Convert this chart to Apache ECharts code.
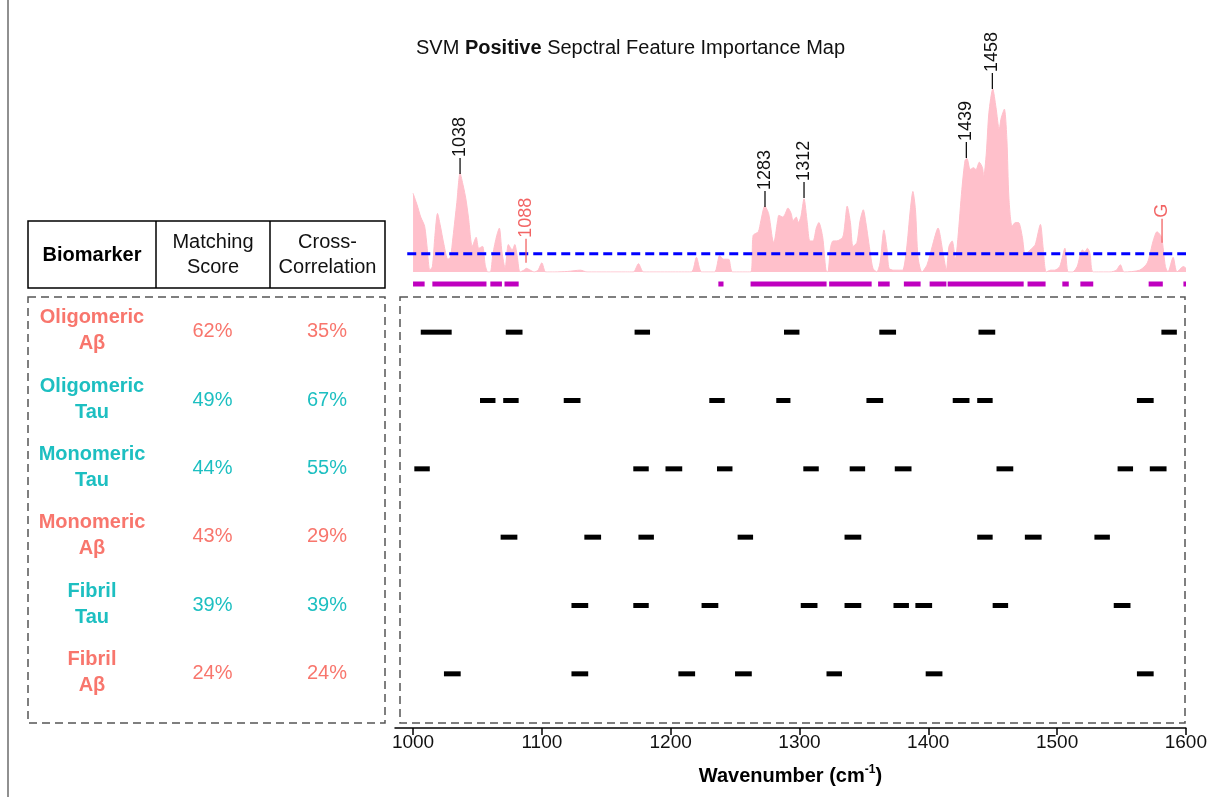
<!DOCTYPE html>
<html><head><meta charset="utf-8">
<script src="https://cdn.jsdelivr.net/npm/echarts@6/dist/echarts.min.js"></script>
<style>html,body{margin:0;padding:0;background:#fff}#c{width:1210px;height:797px}</style>
</head><body><div id="c"></div>
<script>
const FONT = '"Liberation Sans", Arial, Helvetica, sans-serif';

// ---- spectral importance profile (top panel) ----
const wavenumbers = [1000,1003,1006,1009,1011,1013,1015,1017,1019,1021,1024,1027,1029,1031,1034,1036.5,1039,1041,1043,1046,1049,1051,1054,1056,1058,1060,1062,1065,1067,1069,1071.5,1074,1077,1079,1081,1083,1086,1088,1091,1094,1097,1100,1103,1110,1120,1130,1135,1150,1165,1171,1175,1179,1200,1216,1220,1224,1234,1238,1241,1245,1248,1262,
1264,1268,1270,1273,1276,1279,1280,1283,1284,1287,1289,1291,1293.5,1295,1297.5,1299,1301,1303.5,1306,1308,1310.5,1313,1315,1318,1320.5,1322,1324,1326,1329,1333.5,1335,1337,1339.5,1341.5,1344.5,1347,1349.5,1351.5,1355,1357,1360,1362.5,1365.5,1368,1369.5,1373,1377,1380,1383,1386,1388,1390,1392,1395,1399,1403,1407.5,1411.5,1414,1416,1418.5,1421,1423,1426,1428.5,1430,1432.5,1435,1437,1439.5,1442,1443,1445,1447,1450,1452.5,1455,1456.5,1459,1461,1462.5,1465,1467.5,1470,1473,1475,1477.5,1480.5,1483,1487,1489,1491.5,1495,1498,1502,1506,1508.5,1512,1515.5,1519.5,1521.5,1523.5,1525.5,1528,1541,1546,1549,1552,1564,1570,1574.5,1577.5,1581,1584,1586,1590,1593,1598,1600];
const importance = [0.43,0.37,0.30,0.25,0.13,0.01,0.03,0.20,0.32,0.26,0.15,0.07,0.08,0.19,0.38,0.54,0.47,0.40,0.30,0.14,0.19,0.13,0.14,0.04,0.0,0.0,0.10,0.20,0.24,0.11,0.02,0.15,0.12,0.15,0.08,0.0,0.01,0.02,0.01,0.0,0.01,0.05,0.0,0.0,0.003,0.01,0.0,0.0,0.0,0.0,0.045,0.0,0.0,0.0,0.08,0.0,0.0,0.09,0.07,0.07,0.0,0.0,
0.20,0.22,0.28,0.36,0.32,0.18,0.16,0.28,0.31,0.30,0.32,0.35,0.32,0.28,0.30,0.27,0.30,0.40,0.27,0.17,0.17,0.24,0.27,0.19,0.01,0.0,0.13,0.17,0.17,0.19,0.25,0.36,0.27,0.14,0.16,0.28,0.34,0.27,0.10,0.02,0.0,0.05,0.23,0.12,0.02,0.01,0.01,0.01,0.12,0.34,0.44,0.34,0.08,0.0,0.04,0.14,0.24,0.10,0.01,0.14,0.17,0.07,0.19,0.45,0.61,0.62,0.56,0.57,0.56,0.60,0.57,0.52,0.65,0.87,1.00,0.90,0.78,0.84,0.89,0.72,0.41,0.25,0.27,0.27,0.19,0.10,0.11,0.13,0.15,0.26,0.14,0.0,0.01,0.01,0.03,0.13,0.0,0.0,0.03,0.12,0.11,0.13,0.10,0.0,0.0,0.01,0.04,0.0,0.01,0.05,0.17,0.22,0.19,0.03,0.0,0.08,0.0,0.03,0.02];
const thresholdValue = 0.1;
const thresholdSpan = [995.5, 1600];
const selectedRegions = [[1000,1009],[1015,1057],[1060,1069],[1071,1082],[1237,1241],[1262,1321],[1323,1356],[1361,1370],[1381,1394],[1401,1414],[1415,1474],[1477,1491],[1504,1509],[1518,1528],[1571,1582],[1598,1600]];
const peakLabels = ['1038','1088','1283','1312','1439','1458','G'];
const peakWn = [1036.5,1087.7,1273.2,1303.5,1429.5,1449.7,1581.4];
const peakVal = [0.535,0.05,0.355,0.405,0.623,1.0,0.16];
const highlightedPeaks = ['1088','G'];

// ---- biomarker table ----
const biomarkerForm = ['Oligomeric','Oligomeric','Monomeric','Monomeric','Fibril','Fibril'];
const biomarkerProtein = ['Aβ','Tau','Tau','Aβ','Tau','Aβ'];
const matchingScore = [62,49,44,43,39,24];
const crossCorrelation = [35,67,55,29,39,24];

// ---- matched spectral bands per biomarker (bottom panel) ----
const segOligomericAb = [[1006,1030],[1072,1085],[1172,1184],[1288,1300],[1362,1375],[1439,1452],[1581,1593]];
const segOligomericTau = [[1052,1064],[1070,1082],[1117,1130],[1230,1242],[1282,1293],[1352,1365],[1419,1432],[1438,1450],[1562,1575]];
const segMonomericTau = [[1001,1013],[1171,1183],[1196,1209],[1236,1248],[1303,1315],[1339,1351],[1374,1387],[1453,1466],[1547,1559],[1572,1585]];
const segMonomericAb = [[1068,1081],[1133,1146],[1175,1187],[1252,1264],[1335,1348],[1438,1450],[1475,1488],[1529,1541]];
const segFibrilTau = [[1123,1136],[1171,1183],[1224,1237],[1301,1314],[1335,1348],[1373,1385],[1390,1403],[1450,1462],[1544,1557]];
const segFibrilAb = [[1024,1037],[1123,1136],[1206,1219],[1250,1263],[1321,1333],[1398,1411],[1562,1575]];
const xTicks = [1000,1100,1200,1300,1400,1500,1600];
const xRange = [986, 1600];

// ---------------- build ----------------
const RED = '#F8766D', TEAL = '#1DBFC1';
const rowKeys = biomarkerForm.map((f,i)=>f+' '+biomarkerProtein[i]);
const allSegs = [segOligomericAb,segOligomericTau,segMonomericTau,segMonomericAb,segFibrilTau,segFibrilAb];
const segData = [];
allSegs.forEach((row,ri)=>row.forEach(s=>segData.push([s[0],s[1],ri])));
const areaData = wavenumbers.map((w,i)=>[w, importance[i]]);
const peakData = peakWn.map((w,i)=>[w, peakVal[i], i]);

const GL = 395, GW = 791;
const chart = echarts.init(document.getElementById('c'), null, {renderer:'canvas'});

const graphics = [];
graphics.push({type:'line', shape:{x1:8,y1:0,x2:8,y2:797}, style:{stroke:'#6b6b6b', lineWidth:1.5}, silent:true});
// header box
graphics.push({type:'rect', shape:{x:28,y:221,width:357,height:67}, style:{fill:'none', stroke:'#000', lineWidth:1.5}});
graphics.push({type:'line', shape:{x1:156,y1:221,x2:156,y2:288}, style:{stroke:'#000', lineWidth:1.5}});
graphics.push({type:'line', shape:{x1:270,y1:221,x2:270,y2:288}, style:{stroke:'#000', lineWidth:1.5}});
graphics.push({type:'text', style:{text:'Biomarker', x:92, y:255, align:'center', verticalAlign:'middle', fontSize:20, fontWeight:'bold', fontFamily:FONT, fill:'#000'}});
graphics.push({type:'text', style:{text:'Matching\nScore', x:213, y:255, align:'center', verticalAlign:'middle', fontSize:20, lineHeight:25, fontFamily:FONT, fill:'#111'}});
graphics.push({type:'text', style:{text:'Cross-\nCorrelation', x:327.5, y:255, align:'center', verticalAlign:'middle', fontSize:20, lineHeight:25, fontFamily:FONT, fill:'#111'}});
// dashed boxes
graphics.push({type:'rect', shape:{x:28,y:297,width:357,height:426}, style:{fill:'none', stroke:'#555', lineWidth:1.5, lineDash:[8,5]}});
graphics.push({type:'rect', shape:{x:400,y:297,width:785,height:426}, style:{fill:'none', stroke:'#555', lineWidth:1.5, lineDash:[8,5]}});
// rows
rowKeys.forEach((k,i)=>{
  const y = 298 + (i+0.5)*410/6 - 1.5;
  const col = biomarkerProtein[i]==='Tau' ? TEAL : RED;
  graphics.push({type:'text', style:{text: biomarkerForm[i]+'\n'+biomarkerProtein[i], x:92, y:y, align:'center', verticalAlign:'middle', fontSize:20, lineHeight:26, fontWeight:'bold', fontFamily:FONT, fill:col}});
  graphics.push({type:'text', style:{text: matchingScore[i]+'%', x:212.5, y:y+1, align:'center', verticalAlign:'middle', fontSize:20, fontFamily:FONT, fill:col}});
  graphics.push({type:'text', style:{text: crossCorrelation[i]+'%', x:327, y:y+1, align:'center', verticalAlign:'middle', fontSize:20, fontFamily:FONT, fill:col}});
});

const option = {
  backgroundColor:'#fff',
  animation:false,
  title:{
    text:'{n|SVM }{b|Positive}{n| Sepctral Feature Importance Map}',
    left:411, top:33,
    textStyle:{fontSize:20, fontWeight:'normal', fontFamily:FONT, color:'#111',
      rich:{n:{fontSize:20,fontWeight:'normal',fontFamily:FONT,color:'#111'}, b:{fontSize:20,fontWeight:'bold',fontFamily:FONT,color:'#111'}}}
  },
  grid:[
    {left:GL, width:GW, top:298, height:410},
    {left:GL, width:GW, top:52.4, height:219.6}
  ],
  xAxis:[
    {type:'value', gridIndex:0, min:xRange[0], max:xRange[1], position:'bottom', offset:20,
     axisLine:{show:true, lineStyle:{color:'#000', width:1.5}},
     axisTick:{show:true, length:7, lineStyle:{color:'#000', width:1.5}, customValues:xTicks},
     axisLabel:{show:true, customValues:xTicks, fontSize:19, color:'#111', fontFamily:FONT, margin:5,
       formatter:function(v){ return String(v); }},
     splitLine:{show:false},
     name:'{b|Wavenumber (cm}{s|-1}{b|)}', nameLocation:'middle', nameGap:36,
     nameTextStyle:{rich:{
       b:{fontSize:20, fontWeight:'bold', fontFamily:FONT, color:'#000', lineHeight:24},
       s:{fontSize:12, fontWeight:'bold', fontFamily:FONT, color:'#000', lineHeight:12, verticalAlign:'top'}}}
    },
    {type:'value', gridIndex:1, min:xRange[0], max:xRange[1], show:false}
  ],
  yAxis:[
    {type:'category', gridIndex:0, data:rowKeys, inverse:true, show:false},
    {type:'value', gridIndex:1, min:0, max:1.2, show:false}
  ],
  graphic: graphics,
  series:[
    {type:'line', xAxisIndex:1, yAxisIndex:1, data:areaData, showSymbol:false, smooth:0.25,
     lineStyle:{color:'#FFBFCA', width:1}, areaStyle:{color:'#FFC0CB', opacity:1}, z:2},
    {type:'line', xAxisIndex:1, yAxisIndex:1, data:thresholdSpan.map(x=>[x,thresholdValue]), showSymbol:false,
     lineStyle:{color:'#0000FF', width:3, type:[9,5]}, z:4},
    {type:'custom', xAxisIndex:1, yAxisIndex:1, data:selectedRegions, encode:{x:[0,1]}, clip:false, z:3,
     renderItem:function(params, api){
       const s = api.coord([api.value(0), 0]);
       const e = api.coord([api.value(1), 0]);
       return {type:'rect', shape:{x:s[0], y:s[1]+9.5, width:Math.max(e[0]-s[0],2), height:5}, style:{fill:'#BF00BF'}};
     }},
    {type:'custom', xAxisIndex:1, yAxisIndex:1, data:peakData, encode:{x:0,y:1}, clip:false, z:5,
     renderItem:function(params, api){
       const p = api.coord([api.value(0), api.value(1)]);
       const lab = peakLabels[api.value(2)];
       const red = highlightedPeaks.indexOf(lab) >= 0;
       const col = red ? '#F26464' : '#111';
       const len = red ? 24 : 16;
       return {type:'group', children:[
         {type:'line', shape:{x1:p[0], y1:p[1], x2:p[0], y2:p[1]-len}, style:{stroke:col, lineWidth:1.3}},
         {type:'text', x:p[0], y:p[1]-len-1, rotation:Math.PI/2,
          style:{text:lab, x:0, y:0, align:'left', verticalAlign:'middle', fontSize:18, fontFamily:FONT, fill:col}}
       ]};
     }},
    {type:'custom', xAxisIndex:0, yAxisIndex:0, data:segData, encode:{x:[0,1], y:2}, z:3,
     renderItem:function(params, api){
       const s = api.coord([api.value(0), api.value(2)]);
       const e = api.coord([api.value(1), api.value(2)]);
       return {type:'rect', shape:{x:s[0], y:s[1]-2.5, width:e[0]-s[0], height:5}, style:{fill:'#000'}};
     }}
  ]
};
chart.setOption(option);
</script></body></html>
